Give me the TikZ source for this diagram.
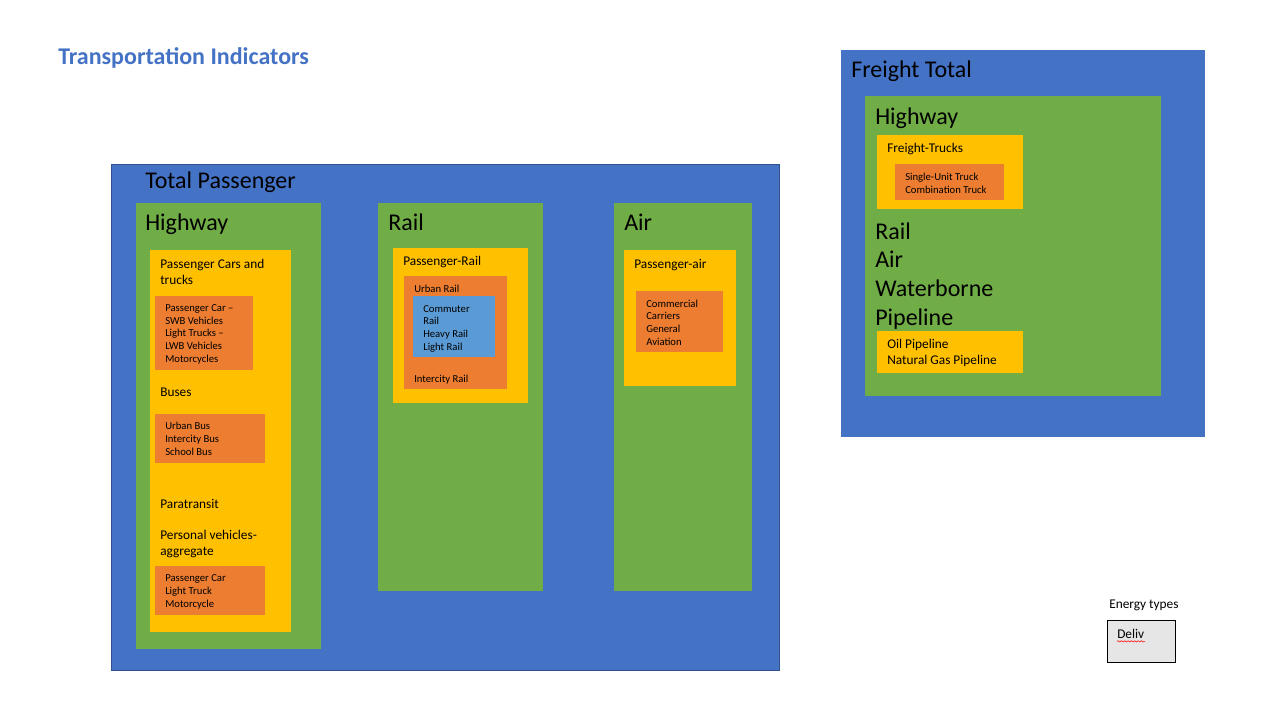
\documentclass[tikz,border=0pt]{standalone}
\usepackage{fontspec}
\setmainfont{Carlito}
\usepackage{tikz}
\usetikzlibrary{positioning,decorations.pathmorphing}

\definecolor{pblue}{HTML}{4472C4}
\definecolor{pedge}{HTML}{2F528F}
\definecolor{pgreen}{HTML}{70AD47}
\definecolor{pyellow}{HTML}{FFC000}
\definecolor{porange}{HTML}{ED7D31}
\definecolor{plight}{HTML}{5B9BD5}
\definecolor{pgray}{HTML}{E7E6E6}

\begin{document}
\begin{tikzpicture}[x=0.75pt, y=-0.75pt,
    big/.style={inner sep=0, anchor=base west, align=left, font=\fontsize{18}{21.5}\selectfont},
    mid/.style={inner sep=0, anchor=base west, align=left, font=\fontsize{10}{11.8}\selectfont},
    small/.style={inner sep=0, anchor=base west, align=left, font=\fontsize{8}{9.45}\selectfont}]
    \useasboundingbox (0,0) rectangle (1267,715);

    % title
    \node[big, font=\fontsize{18}{21.5}\selectfont\bfseries, text=pblue] (title) at (58,64) {Transportation Indicators};

    % passenger side
    \fill[pblue, draw=pedge] (111,164) rectangle (779,670);
    \fill[pgreen] (136,203) rectangle (321,649);
    \fill[pgreen] (378,203) rectangle (543,591);
    \fill[pgreen] (614,203) rectangle (752,591);
    \fill[pyellow] (150,250) rectangle (291,632);
    \fill[porange] (155,296) rectangle (253,370);
    \fill[porange] (155,414) rectangle (265,463);
    \fill[porange] (155,566) rectangle (265,615);
    \fill[pyellow] (393,248) rectangle (528,403);
    \fill[porange] (404,276) rectangle (507,389);
    \fill[plight] (413,296) rectangle (495,357);
    \fill[pyellow] (624,250) rectangle (736,386);
    \fill[porange] (636,291) rectangle (723,352);

    \node[big] (totpass) at (145,188) {Total Passenger};
    \node[big] (phwy) at (145,230) {Highway};
    \node[big] (prail) at (388,230) {Rail};
    \node[big] (pair) at (624,230) {Air};

    % multi-line nodes sit on their last baseline
    \node[mid] (cars) at (160,284) {Passenger Cars and\\trucks};
    \node[small] (carlist) at (165,362) {Passenger Car --\\SWB Vehicles\\Light Trucks --\\LWB Vehicles\\Motorcycles};
    \node[mid] (buses) at (160,396) {Buses};
    \node[small] (buslist) at (165,455) {Urban Bus\\Intercity Bus\\School Bus};
    \node[mid] (para) at (160,508) {Paratransit};
    \node[mid] (pers) at (160,555) {Personal vehicles-\\aggregate};
    \node[small] (perslist) at (165,607) {Passenger Car\\Light Truck\\Motorcycle};

    \node[mid] (passrail) at (403,265) {Passenger-Rail};
    \node[small] (urbrail) at (414,292) {Urban Rail};
    \node[small] (urblist) at (423,350) {Commuter\\Rail\\Heavy Rail\\Light Rail};
    \node[small] (intrail) at (414,382) {Intercity Rail};

    \node[mid] (passair) at (634,268) {Passenger-air};
    \node[small] (airlist) at (646,345) {Commercial\\Carriers\\General\\Aviation};

    % freight side
    \fill[pblue] (841,50) rectangle (1205,437);
    \fill[pgreen] (865,96) rectangle (1161,396);
    \fill[pyellow] (877,135) rectangle (1023,209);
    \fill[porange] (895,164) rectangle (1004,200);
    \fill[pyellow] (877,331) rectangle (1023,373);

    \node[big] (frtot) at (851,77) {Freight Total};
    \node[big] (fhwy) at (875,124) {Highway};
    \node[mid] (ftrucks) at (887,152) {Freight-Trucks};
    \node[small] (trucklist) at (905,193) {Single-Unit Truck\\Combination Truck};
    \node[big] (fmodes) at (875,325) {Rail\\Air\\Waterborne\\Pipeline};
    \node[mid, font=\fontsize{10}{11.5}\selectfont] (pipes) at (887,364) {Oil Pipeline\\Natural Gas Pipeline};

    % legend
    \node[mid] (energy) at (1109,608) {Energy types};
    \filldraw[fill=pgray, draw=black] (1107,620) rectangle (1175,662);
    \node[mid] (deliv) at (1117,638) {Deliv};
    \draw[red, decorate, decoration={snake, amplitude=0.5pt, segment length=2.5pt}]
        (deliv.south west) ++(0,3) -- ++(28,0);
\end{tikzpicture}
\end{document}
